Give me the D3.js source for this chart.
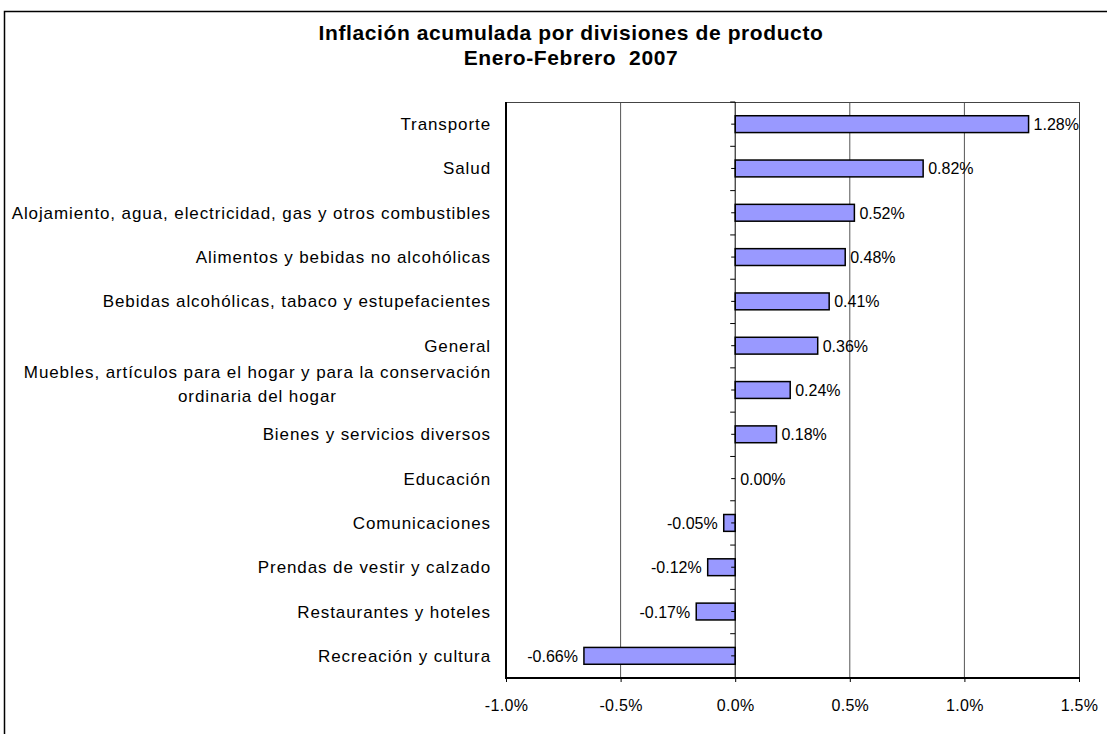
<!DOCTYPE html>
<html>
  <head><meta charset="utf-8"></head>
  <body style="margin:0;background:#fff">
    <script src="https://cdn.jsdelivr.net/npm/d3@7"></script>
    <script>
// categories and values, top to bottom
var categories = [
  "Transporte",
  "Salud",
  "Alojamiento, agua, electricidad, gas y otros combustibles",
  "Alimentos y bebidas no alcohólicas",
  "Bebidas alcohólicas, tabaco y estupefacientes",
  "General",
  "Muebles, artículos para el hogar y para la conservación|ordinaria del hogar",
  "Bienes y servicios diversos",
  "Educación",
  "Comunicaciones",
  "Prendas de vestir y calzado",
  "Restaurantes y hoteles",
  "Recreación y cultura"
];
var values = [1.28, 0.82, 0.52, 0.48, 0.41, 0.36, 0.24, 0.18, 0.00, -0.05, -0.12, -0.17, -0.66];
var ticks = [-1.0, -0.5, 0.0, 0.5, 1.0, 1.5];

var width = 1107, height = 734;
var plotLeft = 506, plotRight = 1079, plotTop = 102, plotBottom = 678;
var font = "'Liberation Sans', Arial, sans-serif";

// hyphen instead of unicode minus, like the original
var pct1 = d => d3.format(".1f")(d).replace("−", "-") + "%";
var pct2 = d => d3.format(".2f")(d).replace("−", "-") + "%";

var svg = d3.select("body").append("svg")
  .attr("width", width)
  .attr("height", height)
  .style("font-family", font);

// outer chart border
svg.append("rect")
  .attr("x", 4.5).attr("y", 11.5)
  .attr("width", width + 10).attr("height", height + 10)
  .attr("fill", "none").attr("stroke", "#000").attr("stroke-width", 1.5);

// title
svg.append("text")
  .attr("x", 571).attr("y", 40)
  .attr("text-anchor", "middle")
  .style("font-size", "21px").style("font-weight", "bold")
  .style("letter-spacing", "0.6px")
  .text("Inflación acumulada por divisiones de producto");
svg.append("text")
  .attr("x", 571).attr("y", 65)
  .attr("text-anchor", "middle")
  .style("font-size", "21px").style("font-weight", "bold")
  .style("letter-spacing", "0.6px")
  .style("white-space", "pre")
  .text("Enero-Febrero  2007");

var x = d3.scaleLinear().domain([-1.0, 1.5]).range([plotLeft, plotRight]);
var y = d3.scaleBand().domain(d3.range(categories.length)).range([plotTop, plotBottom]);

// gridlines
svg.append("g").selectAll("line")
  .data(ticks.filter(d => d !== 0 && d !== -1.0 && d !== 1.5))
  .join("line")
  .attr("x1", d => x(d)).attr("x2", d => x(d))
  .attr("y1", plotTop).attr("y2", plotBottom)
  .attr("stroke", "#555").attr("stroke-width", 1);

// plot frame: thin top/right
svg.append("line").attr("x1", plotLeft).attr("x2", plotRight).attr("y1", plotTop + 0.5).attr("y2", plotTop + 0.5)
  .attr("stroke", "#444").attr("stroke-width", 1);
svg.append("line").attr("x1", plotRight + 0.5).attr("x2", plotRight + 0.5).attr("y1", plotTop).attr("y2", plotBottom)
  .attr("stroke", "#444").attr("stroke-width", 1);

// bars
var barH = y.bandwidth() * 0.38;
svg.append("g").selectAll("rect")
  .data(values)
  .join("rect")
  .attr("x", d => x(Math.min(0, d)))
  .attr("y", (d, i) => y(i) + (y.bandwidth() - barH) / 2)
  .attr("width", d => Math.abs(x(d) - x(0)))
  .attr("height", barH)
  .attr("fill", "#9999ff")
  .attr("stroke", d => d === 0 ? "none" : "#000")
  .attr("stroke-width", 1.5);

// category axis at zero
svg.append("line").attr("x1", x(0)).attr("x2", x(0)).attr("y1", plotTop).attr("y2", plotBottom)
  .attr("stroke", "#000").attr("stroke-width", 1);
svg.append("g").selectAll("line")
  .data(d3.range(categories.length + 1))
  .join("line")
  .attr("x1", x(0) - 5).attr("x2", x(0))
  .attr("y1", d => plotTop + d * y.step()).attr("y2", d => plotTop + d * y.step())
  .attr("stroke", "#000");
svg.append("g").selectAll("line")
  .data(d3.range(categories.length))
  .join("line")
  .attr("x1", x(0) - 4).attr("x2", x(0))
  .attr("y1", d => y(d) + y.bandwidth() / 2).attr("y2", d => y(d) + y.bandwidth() / 2)
  .attr("stroke", "#000");

// left and bottom frame, thicker
svg.append("line").attr("x1", plotLeft).attr("x2", plotLeft).attr("y1", plotTop).attr("y2", plotBottom + 1)
  .attr("stroke", "#000").attr("stroke-width", 2);
svg.append("line").attr("x1", plotLeft).attr("x2", plotRight + 1).attr("y1", plotBottom).attr("y2", plotBottom)
  .attr("stroke", "#000").attr("stroke-width", 2);

// value axis
var xAxis = d3.axisBottom(x).tickValues(ticks).tickSize(4).tickFormat(pct1);
var gx = svg.append("g").attr("transform", "translate(0," + plotBottom + ")").call(xAxis);
gx.select(".domain").remove();
gx.selectAll("text")
  .attr("y", 22)
  .style("font-family", font).style("font-size", "16px")
  .style("letter-spacing", "0.3px")
  .attr("fill", "#000");

// category labels
svg.append("g").selectAll("text")
  .data(categories)
  .join("text")
  .attr("text-anchor", "end")
  .style("font-size", "17px")
  .style("letter-spacing", "0.9px")
  .attr("fill", "#000")
  .each(function(d, i) {
    var lines = d.split("|");
    var cy = y(i) + y.bandwidth() / 2;
    var t = d3.select(this);
    if (lines.length === 1) {
      t.attr("x", 491).attr("y", cy + 6).text(d);
    } else {
      // two-line label, centred block, right edge on the other labels
      t.text(lines[0]);
      var w = this.getComputedTextLength();
      t.text(null).attr("text-anchor", "middle");
      var cx = 491 - w / 2;
      lines.forEach(function(l, k) {
        t.append("tspan").attr("x", cx).attr("y", cy - 12 + k * 24).text(l);
      });
    }
  });

// value labels
svg.append("g").selectAll("text")
  .data(values)
  .join("text")
  .attr("x", d => d < 0 ? x(d) - 6 : x(d) + 5)
  .attr("y", (d, i) => y(i) + y.bandwidth() / 2 + 6)
  .attr("text-anchor", d => d < 0 ? "end" : "start")
  .style("font-size", "16px")
  .attr("fill", "#000")
  .text(pct2);
    </script>
  </body>
</html>
